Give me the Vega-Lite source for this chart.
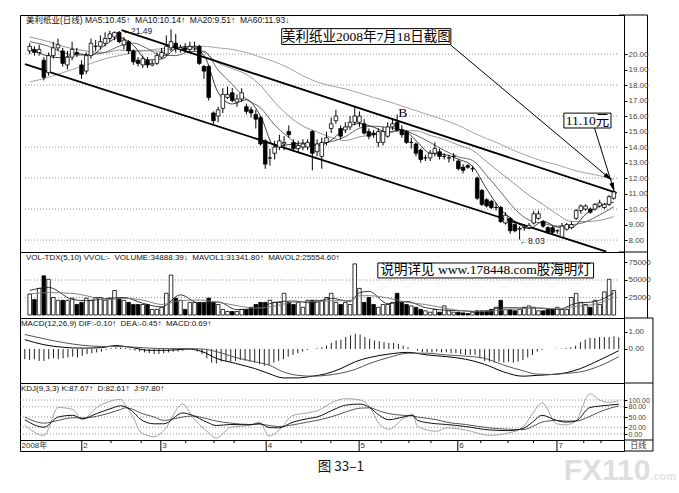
{
  "$schema": "https://vega.github.io/schema/vega-lite/v6.json",
  "background": "#ffffff",
  "padding": {"left": 19, "top": 14, "right": 0, "bottom": 12},
  "bounds": "flush",
  "spacing": 0,
  "config": {
    "view": {"stroke": "#000", "strokeWidth": 1},
    "text": {"font": "Liberation Sans, Noto Sans CJK SC", "fontSize": 8, "color": "#222"}
  },
  "datasets": {
    "k": [
      {"i":0,"o":20.2,"h":20.7,"l":20.0,"c":20.5,"v":30000,"m":-0.6},
      {"i":1,"o":20.3,"h":20.5,"l":19.9,"c":20.1,"v":22000,"m":-0.65},
      {"i":2,"o":20.1,"h":20.6,"l":19.9,"c":20.3,"v":38000,"m":-0.6},
      {"i":3,"o":19.6,"h":19.8,"l":18.3,"c":18.5,"v":56000,"m":-0.7},
      {"i":4,"o":18.8,"h":20.1,"l":18.6,"c":19.9,"v":51000,"m":-0.7},
      {"i":5,"o":19.9,"h":20.8,"l":19.7,"c":20.4,"v":25000,"m":-0.6},
      {"i":6,"o":20.4,"h":21.0,"l":20.2,"c":20.6,"v":21000,"m":-0.55},
      {"i":7,"o":20.2,"h":20.4,"l":19.2,"c":19.4,"v":21000,"m":-0.6},
      {"i":8,"o":19.3,"h":20.2,"l":19.0,"c":19.8,"v":21000,"m":-0.55},
      {"i":9,"o":19.8,"h":20.8,"l":19.6,"c":20.3,"v":24000,"m":-0.5},
      {"i":10,"o":20.1,"h":20.4,"l":19.8,"c":20.0,"v":15000,"m":-0.45},
      {"i":11,"o":19.3,"h":19.6,"l":18.4,"c":18.7,"v":18000,"m":-0.5},
      {"i":12,"o":18.9,"h":20.1,"l":18.7,"c":19.9,"v":24000,"m":-0.4},
      {"i":13,"o":19.9,"h":21.0,"l":19.7,"c":20.7,"v":21000,"m":-0.3},
      {"i":14,"o":20.5,"h":20.9,"l":20.2,"c":20.5,"v":25000,"m":-0.25},
      {"i":15,"o":20.5,"h":21.2,"l":20.3,"c":20.8,"v":25000,"m":-0.2},
      {"i":16,"o":20.7,"h":21.4,"l":20.5,"c":21.0,"v":21000,"m":-0.15},
      {"i":17,"o":21.0,"h":21.5,"l":20.8,"c":21.3,"v":24000,"m":-0.05},
      {"i":18,"o":21.1,"h":21.45,"l":20.9,"c":21.4,"v":35000,"m":0.05},
      {"i":19,"o":21.4,"h":21.49,"l":20.7,"c":20.8,"v":24000,"m":0.1},
      {"i":20,"o":20.6,"h":21.1,"l":20.3,"c":20.9,"v":21000,"m":0.08},
      {"i":21,"o":20.8,"h":20.9,"l":20.0,"c":20.2,"v":18000,"m":0.05},
      {"i":22,"o":20.2,"h":20.3,"l":19.3,"c":19.5,"v":15000,"m":-0.05},
      {"i":23,"o":19.6,"h":19.8,"l":19.2,"c":19.4,"v":15000,"m":-0.1},
      {"i":24,"o":19.3,"h":19.9,"l":19.1,"c":19.7,"v":15000,"m":-0.15},
      {"i":25,"o":19.6,"h":19.8,"l":19.1,"c":19.3,"v":15000,"m":-0.2},
      {"i":26,"o":19.3,"h":19.6,"l":19.2,"c":19.4,"v":8000,"m":-0.25},
      {"i":27,"o":19.4,"h":20.1,"l":19.3,"c":19.9,"v":8000,"m":-0.3},
      {"i":28,"o":19.8,"h":20.4,"l":19.7,"c":20.1,"v":11000,"m":-0.3},
      {"i":29,"o":20.0,"h":21.2,"l":19.9,"c":20.5,"v":31000,"m":-0.25},
      {"i":30,"o":20.4,"h":21.6,"l":20.2,"c":20.8,"v":57000,"m":-0.2},
      {"i":31,"o":20.7,"h":21.3,"l":20.1,"c":20.4,"v":24000,"m":-0.15},
      {"i":32,"o":20.3,"h":20.6,"l":20.1,"c":20.4,"v":21000,"m":-0.15},
      {"i":33,"o":20.4,"h":20.7,"l":20.1,"c":20.3,"v":8000,"m":-0.1},
      {"i":34,"o":20.3,"h":20.8,"l":20.1,"c":20.5,"v":18000,"m":-0.05},
      {"i":35,"o":20.4,"h":20.8,"l":20.2,"c":20.5,"v":18000,"m":-0.05},
      {"i":36,"o":20.5,"h":20.6,"l":19.3,"c":19.4,"v":18000,"m":-0.15},
      {"i":37,"o":19.2,"h":19.3,"l":18.4,"c":18.9,"v":18000,"m":-0.3},
      {"i":38,"o":19.2,"h":19.3,"l":17.0,"c":17.2,"v":24000,"m":-0.55},
      {"i":39,"o":16.2,"h":16.3,"l":15.5,"c":15.7,"v":18000,"m":-0.8},
      {"i":40,"o":16.0,"h":16.6,"l":15.6,"c":16.4,"v":15000,"m":-0.85},
      {"i":41,"o":16.5,"h":17.8,"l":16.2,"c":17.4,"v":8000,"m":-0.75},
      {"i":42,"o":17.2,"h":17.9,"l":17.1,"c":17.4,"v":5000,"m":-0.7},
      {"i":43,"o":17.5,"h":17.8,"l":16.9,"c":17.0,"v":5000,"m":-0.75},
      {"i":44,"o":16.9,"h":17.4,"l":16.6,"c":17.1,"v":5000,"m":-0.7},
      {"i":45,"o":17.1,"h":17.8,"l":16.9,"c":17.5,"v":8000,"m":-0.65},
      {"i":46,"o":16.6,"h":16.8,"l":16.1,"c":16.3,"v":8000,"m":-0.7},
      {"i":47,"o":16.4,"h":16.6,"l":15.9,"c":16.2,"v":11000,"m":-0.75},
      {"i":48,"o":16.1,"h":16.4,"l":15.2,"c":15.8,"v":15000,"m":-0.8},
      {"i":49,"o":15.9,"h":16.0,"l":14.1,"c":14.2,"v":18000,"m":-0.9},
      {"i":50,"o":14.4,"h":14.5,"l":12.6,"c":12.9,"v":18000,"m":-1.0},
      {"i":51,"o":13.3,"h":13.9,"l":12.8,"c":13.3,"v":21000,"m":-0.95},
      {"i":52,"o":13.6,"h":14.4,"l":13.2,"c":14.0,"v":18000,"m":-0.8},
      {"i":53,"o":14.0,"h":14.8,"l":13.8,"c":14.4,"v":18000,"m":-0.7},
      {"i":54,"o":14.2,"h":14.7,"l":13.8,"c":14.3,"v":31000,"m":-0.6},
      {"i":55,"o":15.0,"h":15.4,"l":14.6,"c":14.8,"v":18000,"m":-0.45},
      {"i":56,"o":14.3,"h":14.5,"l":13.7,"c":13.9,"v":15000,"m":-0.35},
      {"i":57,"o":13.9,"h":14.4,"l":13.6,"c":14.1,"v":18000,"m":-0.25},
      {"i":58,"o":14.0,"h":14.5,"l":13.8,"c":14.2,"v":11000,"m":-0.15},
      {"i":59,"o":14.0,"h":14.5,"l":13.8,"c":14.3,"v":21000,"m":-0.05},
      {"i":60,"o":15.0,"h":15.1,"l":12.5,"c":13.6,"v":21000,"m":0.0},
      {"i":61,"o":13.7,"h":14.5,"l":13.4,"c":14.2,"v":21000,"m":0.05},
      {"i":62,"o":13.4,"h":14.6,"l":12.6,"c":14.3,"v":21000,"m":0.1},
      {"i":63,"o":14.3,"h":15.0,"l":14.1,"c":14.6,"v":25000,"m":0.2},
      {"i":64,"o":15.2,"h":15.9,"l":14.9,"c":15.5,"v":31000,"m":0.35},
      {"i":65,"o":15.7,"h":16.4,"l":15.5,"c":16.0,"v":18000,"m":0.5},
      {"i":66,"o":15.2,"h":15.4,"l":14.5,"c":14.7,"v":15000,"m":0.55},
      {"i":67,"o":15.1,"h":15.6,"l":14.9,"c":15.3,"v":18000,"m":0.7},
      {"i":68,"o":15.3,"h":16.0,"l":15.1,"c":15.6,"v":15000,"m":0.8},
      {"i":69,"o":15.6,"h":16.6,"l":15.4,"c":16.0,"v":73000,"m":0.9},
      {"i":70,"o":15.6,"h":16.3,"l":15.3,"c":16.0,"v":38000,"m":0.85},
      {"i":71,"o":15.5,"h":15.8,"l":14.8,"c":14.9,"v":18000,"m":0.7},
      {"i":72,"o":15.0,"h":15.2,"l":14.5,"c":14.7,"v":25000,"m":0.6},
      {"i":73,"o":14.9,"h":15.1,"l":14.6,"c":14.8,"v":15000,"m":0.5},
      {"i":74,"o":14.3,"h":15.2,"l":14.0,"c":15.0,"v":11000,"m":0.45},
      {"i":75,"o":14.3,"h":15.3,"l":14.1,"c":15.0,"v":15000,"m":0.4},
      {"i":76,"o":14.7,"h":15.6,"l":14.6,"c":15.3,"v":15000,"m":0.35},
      {"i":77,"o":15.3,"h":15.8,"l":15.1,"c":15.5,"v":18000,"m":0.35},
      {"i":78,"o":15.6,"h":16.1,"l":15.0,"c":15.1,"v":31000,"m":0.3},
      {"i":79,"o":15.1,"h":15.4,"l":14.6,"c":14.8,"v":18000,"m":0.2},
      {"i":80,"o":15.0,"h":15.1,"l":14.2,"c":14.3,"v":15000,"m":0.1},
      {"i":81,"o":14.3,"h":14.6,"l":13.9,"c":14.3,"v":13000,"m":0.0},
      {"i":82,"o":14.2,"h":14.3,"l":13.4,"c":13.6,"v":11000,"m":-0.1},
      {"i":83,"o":13.8,"h":13.9,"l":13.0,"c":13.2,"v":8000,"m":-0.2},
      {"i":84,"o":13.3,"h":13.5,"l":13.1,"c":13.3,"v":6000,"m":-0.2},
      {"i":85,"o":13.3,"h":13.8,"l":13.1,"c":13.6,"v":4000,"m":-0.2},
      {"i":86,"o":13.6,"h":14.3,"l":13.4,"c":13.9,"v":8000,"m":-0.15},
      {"i":87,"o":13.7,"h":13.9,"l":13.2,"c":13.4,"v":4000,"m":-0.2},
      {"i":88,"o":13.4,"h":13.6,"l":13.2,"c":13.4,"v":13000,"m":-0.2},
      {"i":89,"o":13.3,"h":13.5,"l":13.0,"c":13.3,"v":6000,"m":-0.25},
      {"i":90,"o":13.4,"h":13.6,"l":13.1,"c":13.4,"v":4000,"m":-0.25},
      {"i":91,"o":13.1,"h":13.2,"l":12.5,"c":12.6,"v":4000,"m":-0.3},
      {"i":92,"o":12.7,"h":12.9,"l":12.3,"c":12.5,"v":3000,"m":-0.35},
      {"i":93,"o":12.8,"h":12.9,"l":12.6,"c":12.7,"v":2000,"m":-0.35},
      {"i":94,"o":12.6,"h":12.8,"l":12.4,"c":12.6,"v":4000,"m":-0.35},
      {"i":95,"o":12.0,"h":12.1,"l":10.6,"c":10.7,"v":6000,"m":-0.55},
      {"i":96,"o":11.2,"h":11.3,"l":10.2,"c":10.3,"v":6000,"m":-0.7},
      {"i":97,"o":10.6,"h":10.7,"l":10.1,"c":10.2,"v":6000,"m":-0.75},
      {"i":98,"o":10.5,"h":10.6,"l":10.0,"c":10.1,"v":8000,"m":-0.8},
      {"i":99,"o":10.1,"h":10.4,"l":9.9,"c":10.1,"v":11000,"m":-0.75},
      {"i":100,"o":10.1,"h":10.2,"l":9.1,"c":9.2,"v":21000,"m":-0.8},
      {"i":101,"o":9.1,"h":9.8,"l":9.0,"c":9.6,"v":8000,"m":-0.75},
      {"i":102,"o":9.4,"h":9.5,"l":8.4,"c":8.6,"v":8000,"m":-0.8},
      {"i":103,"o":9.0,"h":9.1,"l":8.5,"c":8.6,"v":6000,"m":-0.75},
      {"i":104,"o":8.7,"h":8.9,"l":8.03,"c":8.75,"v":8000,"m":-0.65},
      {"i":105,"o":8.8,"h":9.0,"l":8.6,"c":8.8,"v":11000,"m":-0.5},
      {"i":106,"o":8.8,"h":9.1,"l":8.7,"c":8.95,"v":13000,"m":-0.35},
      {"i":107,"o":9.1,"h":9.9,"l":9.0,"c":9.7,"v":11000,"m":-0.15},
      {"i":108,"o":9.4,"h":9.9,"l":9.3,"c":9.7,"v":6000,"m":-0.05},
      {"i":109,"o":9.2,"h":9.3,"l":8.8,"c":8.9,"v":6000,"m":0.0},
      {"i":110,"o":8.8,"h":8.9,"l":8.4,"c":8.5,"v":8000,"m":0.0},
      {"i":111,"o":8.8,"h":8.9,"l":8.4,"c":8.5,"v":8000,"m":0.02},
      {"i":112,"o":8.6,"h":8.7,"l":8.4,"c":8.6,"v":11000,"m":0.03},
      {"i":113,"o":8.2,"h":9.1,"l":8.1,"c":8.9,"v":8000,"m":0.05},
      {"i":114,"o":8.7,"h":9.1,"l":8.6,"c":9.0,"v":8000,"m":0.1},
      {"i":115,"o":8.8,"h":9.2,"l":8.7,"c":9.0,"v":25000,"m":0.2},
      {"i":116,"o":9.4,"h":10.0,"l":9.3,"c":9.9,"v":31000,"m":0.4},
      {"i":117,"o":9.9,"h":10.3,"l":9.7,"c":10.2,"v":18000,"m":0.55},
      {"i":118,"o":10.0,"h":10.3,"l":9.9,"c":10.2,"v":15000,"m":0.65},
      {"i":119,"o":10.0,"h":10.1,"l":9.7,"c":9.8,"v":11000,"m":0.65},
      {"i":120,"o":10.0,"h":10.4,"l":9.9,"c":10.3,"v":21000,"m":0.7},
      {"i":121,"o":10.2,"h":10.6,"l":10.1,"c":10.4,"v":15000,"m":0.7},
      {"i":122,"o":10.1,"h":10.4,"l":10.0,"c":10.3,"v":33000,"m":0.7},
      {"i":123,"o":10.3,"h":10.9,"l":10.2,"c":10.8,"v":51000,"m":0.75},
      {"i":124,"o":10.7,"h":11.2,"l":10.6,"c":11.1,"v":34888,"m":0.69}
    ],
    "ma": [
      {"i":0,"ma5":20.4,"ma10":20.8,"ma20":21.1,"ma60":18.2},
      {"i":4,"ma5":19.86,"ma10":20.5,"ma20":20.8,"ma60":18.5},
      {"i":7,"ma5":19.76,"ma10":20.1,"ma20":20.5,"ma60":18.8},
      {"i":10,"ma5":20.02,"ma10":19.93,"ma20":20.3,"ma60":19.1},
      {"i":13,"ma5":19.92,"ma10":19.97,"ma20":20.15,"ma60":19.4},
      {"i":16,"ma5":20.58,"ma10":20.11,"ma20":20.1,"ma60":19.7},
      {"i":19,"ma5":21.06,"ma10":20.51,"ma20":20.25,"ma60":19.9},
      {"i":22,"ma5":20.56,"ma10":20.71,"ma20":20.23,"ma60":20.1},
      {"i":25,"ma5":19.62,"ma10":20.35,"ma20":20.21,"ma60":20.25},
      {"i":28,"ma5":19.68,"ma10":19.92,"ma20":20.19,"ma60":20.35},
      {"i":31,"ma5":20.34,"ma10":19.9,"ma20":20.33,"ma60":20.45},
      {"i":34,"ma5":20.48,"ma10":20.16,"ma20":20.33,"ma60":20.5},
      {"i":37,"ma5":19.92,"ma10":20.18,"ma20":20.12,"ma60":20.5},
      {"i":40,"ma5":17.52,"ma10":18.97,"ma20":19.43,"ma60":20.4},
      {"i":43,"ma5":16.78,"ma10":18.04,"ma20":19.06,"ma60":20.3},
      {"i":46,"ma5":17.06,"ma10":17.09,"ma20":18.69,"ma60":20.1},
      {"i":49,"ma5":16.0,"ma10":16.53,"ma20":17.97,"ma60":19.8},
      {"i":52,"ma5":14.04,"ma10":15.43,"ma20":16.9,"ma60":19.5},
      {"i":55,"ma5":14.16,"ma10":14.62,"ma20":16.01,"ma60":19.1},
      {"i":58,"ma5":14.26,"ma10":14.01,"ma20":15.35,"ma60":18.6},
      {"i":61,"ma5":14.08,"ma10":14.18,"ma20":14.98,"ma60":18.2},
      {"i":64,"ma5":14.44,"ma10":14.35,"ma20":14.62,"ma60":17.95},
      {"i":67,"ma5":15.22,"ma10":14.67,"ma20":14.42,"ma60":17.75},
      {"i":70,"ma5":15.52,"ma10":15.22,"ma20":14.66,"ma60":17.49},
      {"i":73,"ma5":15.28,"ma10":15.35,"ma20":14.79,"ma60":17.2},
      {"i":76,"ma5":14.96,"ma10":15.26,"ma20":14.91,"ma60":16.95},
      {"i":79,"ma5":15.14,"ma10":15.11,"ma20":15.05,"ma60":16.65},
      {"i":82,"ma5":14.42,"ma10":14.77,"ma20":15.05,"ma60":16.35},
      {"i":85,"ma5":13.6,"ma10":14.3,"ma20":14.75,"ma60":16.05},
      {"i":88,"ma5":13.52,"ma10":13.78,"ma20":14.5,"ma60":15.75},
      {"i":91,"ma5":13.22,"ma10":13.37,"ma20":14.13,"ma60":15.4},
      {"i":94,"ma5":12.76,"ma10":13.14,"ma20":13.79,"ma60":14.95},
      {"i":97,"ma5":11.3,"ma10":12.17,"ma20":13.06,"ma60":14.55},
      {"i":100,"ma5":9.98,"ma10":11.1,"ma20":12.32,"ma60":14.18},
      {"i":103,"ma5":9.22,"ma10":10.0,"ma20":11.61,"ma60":13.75},
      {"i":106,"ma5":8.74,"ma10":9.29,"ma20":10.89,"ma60":13.4},
      {"i":109,"ma5":9.21,"ma10":9.08,"ma20":10.3,"ma60":13.08},
      {"i":112,"ma5":8.84,"ma10":8.9,"ma20":9.66,"ma60":12.85},
      {"i":115,"ma5":8.8,"ma10":8.98,"ma20":9.2,"ma60":12.55},
      {"i":118,"ma5":9.66,"ma10":9.17,"ma20":9.19,"ma60":12.33},
      {"i":121,"ma5":10.18,"ma10":9.63,"ma20":9.27,"ma60":12.15},
      {"i":124,"ma5":10.45,"ma10":10.14,"ma20":9.51,"ma60":11.93}
    ],
    "vma": [
      {"i":0,"mv1":35000,"mv2":30000},
      {"i":4,"mv1":39400,"mv2":32000},
      {"i":9,"mv1":22400,"mv2":30900},
      {"i":12,"mv1":20400,"mv2":27600},
      {"i":16,"mv1":23200,"mv2":21500},
      {"i":20,"mv1":25000,"mv2":23800},
      {"i":24,"mv1":16800,"mv2":21300},
      {"i":28,"mv1":11400,"mv2":15000},
      {"i":32,"mv1":28800,"mv2":20500},
      {"i":36,"mv1":16600,"mv2":21400},
      {"i":40,"mv1":18600,"mv2":18200},
      {"i":44,"mv1":7600,"mv2":13400},
      {"i":48,"mv1":9400,"mv2":9800},
      {"i":52,"mv1":18000,"mv2":12700},
      {"i":56,"mv1":20000,"mv2":18300},
      {"i":60,"mv1":17200,"mv2":19200},
      {"i":64,"mv1":23800,"mv2":20200},
      {"i":68,"mv1":19400,"mv2":20600},
      {"i":70,"mv1":31800,"mv2":27500},
      {"i":72,"mv1":33800,"mv2":27600},
      {"i":76,"mv1":16200,"mv2":24300},
      {"i":80,"mv1":19400,"mv2":18100},
      {"i":84,"mv1":10600,"mv2":15000},
      {"i":88,"mv1":7000,"mv2":10000},
      {"i":92,"mv1":6000,"mv2":6000},
      {"i":96,"mv1":4200,"mv2":5200},
      {"i":100,"mv1":10400,"mv2":7100},
      {"i":104,"mv1":10200,"mv2":8800},
      {"i":108,"mv1":9800,"mv2":10300},
      {"i":112,"mv1":7800,"mv2":8800},
      {"i":116,"mv1":16600,"mv2":12200},
      {"i":120,"mv1":19200,"mv2":15600},
      {"i":124,"mv1":31342,"mv2":25555}
    ],
    "macd": [
      {"i":0,"dif":0.55,"dea":0.85},
      {"i":4,"dif":0.25,"dea":0.6},
      {"i":8,"dif":0.1,"dea":0.38},
      {"i":12,"dif":0.05,"dea":0.22},
      {"i":16,"dif":0.08,"dea":0.15},
      {"i":19,"dif":0.2,"dea":0.15},
      {"i":22,"dif":0.1,"dea":0.12},
      {"i":26,"dif":-0.08,"dea":0.05},
      {"i":30,"dif":-0.08,"dea":0.02},
      {"i":34,"dif":0.0,"dea":0.02},
      {"i":37,"dif":-0.15,"dea":0.0},
      {"i":40,"dif":-0.55,"dea":-0.15},
      {"i":44,"dif":-0.85,"dea":-0.5},
      {"i":48,"dif":-1.15,"dea":-0.75},
      {"i":51,"dif":-1.45,"dea":-0.95},
      {"i":54,"dif":-1.7,"dea":-1.35},
      {"i":57,"dif":-1.7,"dea":-1.55},
      {"i":60,"dif":-1.6,"dea":-1.6},
      {"i":63,"dif":-1.45,"dea":-1.55},
      {"i":66,"dif":-1.15,"dea":-1.42},
      {"i":69,"dif":-0.75,"dea":-1.2},
      {"i":72,"dif":-0.5,"dea":-0.85},
      {"i":76,"dif":-0.3,"dea":-0.5},
      {"i":80,"dif":-0.2,"dea":-0.25},
      {"i":84,"dif":-0.35,"dea":-0.25},
      {"i":88,"dif":-0.45,"dea":-0.35},
      {"i":92,"dif":-0.6,"dea":-0.42},
      {"i":96,"dif":-0.9,"dea":-0.55},
      {"i":100,"dif":-1.35,"dea":-0.95},
      {"i":104,"dif":-1.6,"dea":-1.28},
      {"i":107,"dif":-1.55,"dea":-1.48},
      {"i":110,"dif":-1.5,"dea":-1.5},
      {"i":113,"dif":-1.4,"dea":-1.43},
      {"i":116,"dif":-1.15,"dea":-1.35},
      {"i":120,"dif":-0.65,"dea":-1.0},
      {"i":124,"dif":-0.1,"dea":-0.45}
    ],
    "kdj": [
      {"i":0,"k":42,"d":50,"j":26},
      {"i":4,"k":20,"d":32,"j":-4},
      {"i":7,"k":50,"d":40,"j":78},
      {"i":10,"k":55,"d":48,"j":72},
      {"i":12,"k":45,"d":47,"j":42},
      {"i":15,"k":60,"d":52,"j":78},
      {"i":18,"k":75,"d":63,"j":97},
      {"i":20,"k":83,"d":72,"j":102},
      {"i":21,"k":80,"d":77,"j":86},
      {"i":23,"k":60,"d":70,"j":38},
      {"i":24,"k":45,"d":63,"j":8},
      {"i":27,"k":30,"d":50,"j":-8},
      {"i":29,"k":30,"d":40,"j":10},
      {"i":33,"k":62,"d":50,"j":88},
      {"i":35,"k":55,"d":53,"j":50},
      {"i":38,"k":35,"d":45,"j":8},
      {"i":40,"k":25,"d":38,"j":-12},
      {"i":43,"k":28,"d":32,"j":20},
      {"i":47,"k":27,"d":28,"j":26},
      {"i":49,"k":31,"d":29,"j":35},
      {"i":51,"k":19,"d":25,"j":-6},
      {"i":53,"k":18,"d":22,"j":10},
      {"i":56,"k":35,"d":27,"j":55},
      {"i":59,"k":45,"d":35,"j":62},
      {"i":61,"k":50,"d":40,"j":68},
      {"i":65,"k":75,"d":55,"j":98},
      {"i":67,"k":85,"d":65,"j":104},
      {"i":70,"k":88,"d":76,"j":100},
      {"i":72,"k":78,"d":77,"j":80},
      {"i":74,"k":55,"d":68,"j":30},
      {"i":76,"k":42,"d":60,"j":14},
      {"i":79,"k":50,"d":55,"j":45},
      {"i":81,"k":55,"d":53,"j":58},
      {"i":82,"k":40,"d":50,"j":22},
      {"i":86,"k":30,"d":42,"j":8},
      {"i":88,"k":28,"d":35,"j":18},
      {"i":92,"k":22,"d":28,"j":12},
      {"i":97,"k":12,"d":18,"j":-4},
      {"i":101,"k":10,"d":14,"j":3},
      {"i":104,"k":16,"d":13,"j":20},
      {"i":106,"k":35,"d":22,"j":60},
      {"i":108,"k":55,"d":35,"j":92},
      {"i":111,"k":40,"d":40,"j":30},
      {"i":113,"k":35,"d":38,"j":27},
      {"i":115,"k":38,"d":38,"j":38},
      {"i":118,"k":78,"d":52,"j":118},
      {"i":120,"k":82,"d":65,"j":100},
      {"i":122,"k":85,"d":75,"j":93},
      {"i":124,"k":87.67,"d":82.61,"j":97.8}
    ]
  },
  "vconcat": [
    {
      "width": 604,
      "height": 237,
      "encoding": {
        "x": {"field": "i", "type": "quantitative", "scale": {"domain": [-1, 125.1], "nice": false, "zero": false}, "axis": null},
        "y": {"field": "p", "type": "quantitative", "scale": {"domain": [7.23, 22.52], "nice": false, "zero": false},
          "axis": {"orient": "right", "values": [8,9,10,11,12,13,14,15,16,17,18,19,20], "format": ".2f", "title": null, "grid": false, "tickSize": 3, "tickColor": "#000", "domainColor": "#000", "labelFont": "Liberation Sans", "labelFontSize": 8, "labelColor": "#444", "labelPadding": 1, "zindex": 2}}
      },
      "layer": [
        {
          "data": {"values": [{"i":-1,"i2":125.1,"p":8},{"i":-1,"i2":125.1,"p":10},{"i":-1,"i2":125.1,"p":12},{"i":-1,"i2":125.1,"p":14},{"i":-1,"i2":125.1,"p":16},{"i":-1,"i2":125.1,"p":18},{"i":-1,"i2":125.1,"p":20}]},
          "mark": {"type": "rule", "strokeDash": [1, 2], "color": "#777", "strokeWidth": 0.8},
          "encoding": {"x2": {"field": "i2"}}
        },
        {
          "data": {"values": [{"i":131.15,"i2":131.15,"p":22.52,"p2":7.23},{"i":125.1,"i2":131.15,"p":22.52,"p2":22.52}]},
          "mark": {"type": "rule", "color": "#000", "strokeWidth": 1},
          "encoding": {"x2": {"field": "i2"}, "y2": {"field": "p2"}}
        },
        {
          "data": {"name": "ma"},
          "mark": {"type": "line", "color": "#999", "strokeWidth": 0.9, "interpolate": "monotone"},
          "encoding": {"y": {"field": "ma60", "type": "quantitative"}}
        },
        {
          "data": {"name": "ma"},
          "mark": {"type": "line", "color": "#888", "strokeWidth": 0.9, "interpolate": "monotone"},
          "encoding": {"y": {"field": "ma20", "type": "quantitative"}}
        },
        {
          "data": {"name": "ma"},
          "mark": {"type": "line", "color": "#555", "strokeWidth": 0.9, "interpolate": "monotone"},
          "encoding": {"y": {"field": "ma10", "type": "quantitative"}}
        },
        {
          "data": {"name": "ma"},
          "mark": {"type": "line", "color": "#222", "strokeWidth": 0.9, "interpolate": "monotone"},
          "encoding": {"y": {"field": "ma5", "type": "quantitative"}}
        },
        {
          "data": {"values": [{"i":19.5,"p":21.55,"i2":124.6,"p2":11.05},{"i":-1,"p":19.35,"i2":122.4,"p2":7.25}]},
          "mark": {"type": "rule", "color": "#000", "strokeWidth": 1.8},
          "encoding": {"x2": {"field": "i2"}, "y2": {"field": "p2"}}
        },
        {
          "data": {"name": "k"},
          "mark": {"type": "rule", "color": "#000", "strokeWidth": 1},
          "encoding": {"y": {"field": "l", "type": "quantitative"}, "y2": {"field": "h"}}
        },
        {
          "data": {"name": "k"},
          "mark": {"type": "bar", "orient": "vertical", "size": 3.6, "stroke": "#000", "strokeWidth": 0.8},
          "encoding": {
            "y": {"field": "o", "type": "quantitative"}, "y2": {"field": "c"},
            "fill": {"condition": {"test": "datum.c < datum.o", "value": "#000"}, "value": "#fff"}
          }
        },
        {
          "data": {"values": [{"i":89.3,"p":20.6,"i2":122.8,"p2":12.06},{"i":119.9,"p":15.23,"i2":123.8,"p2":11.42}]},
          "mark": {"type": "rule", "color": "#000", "strokeWidth": 1},
          "encoding": {"x2": {"field": "i2"}, "y2": {"field": "p2"}}
        },
        {
          "data": {"values": [{"i":122.8,"p":12.06}]},
          "mark": {"type": "point", "shape": "M0,-1L0.45,0.8L-0.45,0.8Z", "filled": true, "color": "#000", "opacity": 1, "size": 110, "angle": 129}
        },
        {
          "data": {"values": [{"i":123.8,"p":11.42}]},
          "mark": {"type": "point", "shape": "M0,-1L0.45,0.8L-0.45,0.8Z", "filled": true, "color": "#000", "opacity": 1, "size": 110, "angle": 162}
        },
        {
          "data": {"values": [{"i":53.5,"p":21.64,"i2":89.4,"p2":20.62},{"i":113.4,"p":16.19,"i2":123.4,"p2":15.23}]},
          "mark": {"type": "rect", "fill": "#fff", "stroke": "#000", "strokeWidth": 1},
          "encoding": {"x2": {"field": "i2"}, "y2": {"field": "p2"}}
        },
        {
          "data": {"values": [{"i":71.45,"p":21.13,"t":"美利纸业2008年7月18日截图"},{"i":118.4,"p":15.71,"t":"11.10元"},{"i":79.2,"p":16.2,"t":"B"}]},
          "mark": {"type": "text", "font": "Liberation Serif, Noto Sans CJK SC", "fontSize": 13.5, "align": "center", "baseline": "middle", "color": "#000"},
          "encoding": {"text": {"field": "t"}}
        },
        {
          "data": {"values": [{"i":19.7,"p":21.48,"t":"←21.49"},{"i":104,"p":7.94,"t":"←8.03"}]},
          "mark": {"type": "text", "fontSize": 8.5, "align": "left", "baseline": "middle", "color": "#222"},
          "encoding": {"text": {"field": "t"}}
        },
        {
          "data": {"values": [{"i":-0.8,"p":22.52,"t":"美利纸业(日线) MA5:10.45↑\u00a0 MA10:10.14↑\u00a0 MA20:9.51↑\u00a0 MA60:11.93↓"}]},
          "mark": {"type": "text", "fontSize": 8.5, "align": "left", "baseline": "top", "dy": 1, "color": "#111"},
          "encoding": {"text": {"field": "t"}}
        }
      ]
    },
    {
      "width": 604,
      "height": 66,
      "encoding": {
        "x": {"field": "i", "type": "quantitative", "scale": {"domain": [-1, 125.1], "nice": false, "zero": false}, "axis": null},
        "y": {"field": "p", "type": "quantitative", "scale": {"domain": [-4300, 90000], "nice": false, "zero": false},
          "axis": {"orient": "right", "values": [25000, 50000, 75000], "format": "d", "title": null, "grid": false, "tickSize": 3, "tickColor": "#000", "domainColor": "#000", "labelFont": "Liberation Sans", "labelFontSize": 8, "labelColor": "#444", "labelPadding": 1, "zindex": 2}}
      },
      "layer": [
        {
          "data": {"values": [{"i":-1,"i2":125.1,"p":25000},{"i":-1,"i2":125.1,"p":50000}]},
          "mark": {"type": "rule", "strokeDash": [1, 2], "color": "#777", "strokeWidth": 0.8},
          "encoding": {"x2": {"field": "i2"}}
        },
        {
          "data": {"values": [{"i":131.15,"i2":131.15,"p":90000,"p2":-4300},{"i":125.1,"i2":131.15,"p":90000,"p2":90000}]},
          "mark": {"type": "rule", "color": "#000", "strokeWidth": 1},
          "encoding": {"x2": {"field": "i2"}, "y2": {"field": "p2"}}
        },
        {
          "data": {"name": "k"},
          "mark": {"type": "bar", "orient": "vertical", "size": 3.6, "stroke": "#000", "strokeWidth": 0.8},
          "encoding": {
            "y": {"field": "v", "type": "quantitative"}, "y2": {"datum": 0},
            "fill": {"condition": {"test": "datum.c < datum.o", "value": "#000"}, "value": "#fff"}
          }
        },
        {
          "data": {"name": "vma"},
          "mark": {"type": "line", "color": "#222", "strokeWidth": 0.9, "interpolate": "monotone"},
          "encoding": {"y": {"field": "mv1", "type": "quantitative"}}
        },
        {
          "data": {"name": "vma"},
          "mark": {"type": "line", "color": "#777", "strokeWidth": 0.9, "interpolate": "monotone"},
          "encoding": {"y": {"field": "mv2", "type": "quantitative"}}
        },
        {
          "data": {"values": [{"i":73.9,"p":74300,"i2":119.7,"p2":52900}]},
          "mark": {"type": "rect", "fill": "#fff", "stroke": "#000", "strokeWidth": 1},
          "encoding": {"x2": {"field": "i2"}, "y2": {"field": "p2"}}
        },
        {
          "data": {"values": [{"i":96.8,"p":63600,"t":"说明详见 www.178448.com股海明灯"}]},
          "mark": {"type": "text", "font": "Liberation Serif, Noto Sans CJK SC", "fontSize": 13.5, "align": "center", "baseline": "middle", "color": "#000"},
          "encoding": {"text": {"field": "t"}}
        },
        {
          "data": {"values": [{"i":-0.8,"p":90000,"t":"VOL-TDX(5,10) VVOL:-\u00a0 VOLUME:34888.39↓\u00a0 MAVOL1:31341.80↑\u00a0 MAVOL2:25554.60↑"}]},
          "mark": {"type": "text", "fontSize": 8, "align": "left", "baseline": "top", "dy": 1.5, "color": "#111"},
          "encoding": {"text": {"field": "t"}}
        }
      ]
    },
    {
      "width": 604,
      "height": 65,
      "encoding": {
        "x": {"field": "i", "type": "quantitative", "scale": {"domain": [-1, 125.1], "nice": false, "zero": false}, "axis": null},
        "y": {"field": "p", "type": "quantitative", "scale": {"domain": [-2.0, 1.82], "nice": false, "zero": false},
          "axis": {"orient": "right", "values": [0, 1], "format": ".2f", "title": null, "grid": false, "tickSize": 3, "tickColor": "#000", "domainColor": "#000", "labelFont": "Liberation Sans", "labelFontSize": 8, "labelColor": "#444", "labelPadding": 1, "zindex": 2}}
      },
      "layer": [
        {
          "data": {"name": "k"},
          "mark": {"type": "rule", "color": "#222", "strokeWidth": 1},
          "encoding": {"y": {"field": "m", "type": "quantitative"}, "y2": {"datum": 0}}
        },
        {
          "data": {"values": [{"i":131.15,"i2":131.15,"p":1.82,"p2":-2.0},{"i":125.1,"i2":131.15,"p":1.82,"p2":1.82}]},
          "mark": {"type": "rule", "color": "#000", "strokeWidth": 1},
          "encoding": {"x2": {"field": "i2"}, "y2": {"field": "p2"}}
        },
        {
          "data": {"name": "macd"},
          "mark": {"type": "line", "color": "#000", "strokeWidth": 1, "interpolate": "monotone"},
          "encoding": {"y": {"field": "dif", "type": "quantitative"}}
        },
        {
          "data": {"name": "macd"},
          "mark": {"type": "line", "color": "#555", "strokeWidth": 1, "interpolate": "monotone"},
          "encoding": {"y": {"field": "dea", "type": "quantitative"}}
        },
        {
          "data": {"values": [{"i":-0.8,"p":1.82,"t":"MACD(12,26,9) DIF:-0.10↑\u00a0 DEA:-0.45↑\u00a0 MACD:0.69↑"}]},
          "mark": {"type": "text", "fontSize": 8, "align": "left", "baseline": "top", "dy": 1.5, "color": "#111"},
          "encoding": {"text": {"field": "t"}}
        }
      ]
    },
    {
      "width": 604,
      "height": 57,
      "encoding": {
        "x": {"field": "i", "type": "quantitative", "scale": {"domain": [-1, 125.1], "nice": false, "zero": false}, "axis": null},
        "y": {"field": "p", "type": "quantitative", "scale": {"domain": [-17.6, 150], "nice": false, "zero": false},
          "axis": {"orient": "right", "values": [0, 20, 50, 80, 100], "format": ".2f", "title": null, "grid": false, "tickSize": 3, "tickColor": "#000", "domainColor": "#000", "labelFont": "Liberation Sans", "labelFontSize": 7, "labelColor": "#444", "labelPadding": 1, "labelOverlap": false, "zindex": 2}}
      },
      "layer": [
        {
          "data": {"values": [{"i":-1,"i2":125.1,"p":0},{"i":-1,"i2":125.1,"p":20},{"i":-1,"i2":125.1,"p":50},{"i":-1,"i2":125.1,"p":80},{"i":-1,"i2":125.1,"p":100}]},
          "mark": {"type": "rule", "strokeDash": [1, 2], "color": "#777", "strokeWidth": 0.8},
          "encoding": {"x2": {"field": "i2"}}
        },
        {
          "data": {"values": [{"i":131.15,"i2":131.15,"p":150,"p2":-17.6},{"i":125.1,"i2":131.15,"p":150,"p2":150}]},
          "mark": {"type": "rule", "color": "#000", "strokeWidth": 1},
          "encoding": {"x2": {"field": "i2"}, "y2": {"field": "p2"}}
        },
        {
          "data": {"name": "kdj"},
          "mark": {"type": "line", "color": "#999", "strokeWidth": 0.9, "interpolate": "monotone"},
          "encoding": {"y": {"field": "j", "type": "quantitative"}}
        },
        {
          "data": {"name": "kdj"},
          "mark": {"type": "line", "color": "#555", "strokeWidth": 1, "interpolate": "monotone"},
          "encoding": {"y": {"field": "d", "type": "quantitative"}}
        },
        {
          "data": {"name": "kdj"},
          "mark": {"type": "line", "color": "#111", "strokeWidth": 1, "interpolate": "monotone"},
          "encoding": {"y": {"field": "k", "type": "quantitative"}}
        },
        {
          "data": {"values": [{"i":-0.8,"p":150,"t":"KDJ(9,3,3) K:87.67↑\u00a0 D:82.61↑\u00a0 J:97.80↑"}]},
          "mark": {"type": "text", "fontSize": 8, "align": "left", "baseline": "top", "dy": 1.5, "color": "#111"},
          "encoding": {"text": {"field": "t"}}
        }
      ]
    },
    {
      "width": 604,
      "height": 11,
      "encoding": {
        "x": {"field": "i", "type": "quantitative", "scale": {"domain": [-1, 125.1], "nice": false, "zero": false}, "axis": null},
        "y": {"field": "p", "type": "quantitative", "scale": {"domain": [0, 1], "nice": false, "zero": false}, "axis": null}
      },
      "layer": [
        {
          "data": {"values": [{"i":11.9,"i2":11.9,"p":0,"p2":1},{"i":28.4,"i2":28.4,"p":0,"p2":1},{"i":50.4,"i2":50.4,"p":0,"p2":1},{"i":69.8,"i2":69.8,"p":0,"p2":1},{"i":90.4,"i2":90.4,"p":0,"p2":1},{"i":111.1,"i2":111.1,"p":0,"p2":1},{"i":131.15,"i2":131.15,"p":0,"p2":1},{"i":125.1,"i2":131.15,"p":1,"p2":1},{"i":125.1,"i2":131.15,"p":0,"p2":0}]},
          "mark": {"type": "rule", "color": "#000", "strokeWidth": 1},
          "encoding": {"x2": {"field": "i2"}, "y2": {"field": "p2"}}
        },
        {
          "data": {"values": [{"i":18,"p":1,"p2":0.72},{"i":24.3,"p":1,"p2":0.72},{"i":33.6,"p":1,"p2":0.72},{"i":39.5,"p":1,"p2":0.72},{"i":43.7,"p":1,"p2":0.72},{"i":57.7,"p":1,"p2":0.72},{"i":63.9,"p":1,"p2":0.72},{"i":74.4,"p":1,"p2":0.72},{"i":80.2,"p":1,"p2":0.72},{"i":84.8,"p":1,"p2":0.72},{"i":95.2,"p":1,"p2":0.72},{"i":100.9,"p":1,"p2":0.72},{"i":106.2,"p":1,"p2":0.72},{"i":116.7,"p":1,"p2":0.72},{"i":120.3,"p":1,"p2":0.72}]},
          "mark": {"type": "rule", "color": "#000", "strokeWidth": 1},
          "encoding": {"y2": {"field": "p2"}}
        },
        {
          "data": {"values": [{"i":-1,"p":0.5,"t":"2008年"},{"i":11.9,"p":0.5,"t":"2"},{"i":28.4,"p":0.5,"t":"3"},{"i":50.4,"p":0.5,"t":"4"},{"i":69.8,"p":0.5,"t":"5"},{"i":90.4,"p":0.5,"t":"6"},{"i":111.1,"p":0.5,"t":"7"}]},
          "mark": {"type": "text", "fontSize": 8, "align": "left", "baseline": "middle", "dx": 1.5, "dy": 0.5, "color": "#333"},
          "encoding": {"text": {"field": "t"}}
        },
        {
          "data": {"values": [{"i":128.1,"p":0.5,"t":"日线"}]},
          "mark": {"type": "text", "fontSize": 8, "align": "center", "baseline": "middle", "dy": 0.5, "color": "#333"},
          "encoding": {"text": {"field": "t"}}
        },
        {
          "data": {"values": [{"i":66,"p":0,"t":"图 33–1"}]},
          "mark": {"type": "text", "font": "Noto Sans CJK SC", "fontSize": 13.5, "align": "center", "baseline": "middle", "dy": 16, "color": "#111"},
          "encoding": {"text": {"field": "t"}}
        },
        {
          "data": {"values": [{"i":112.5,"p":0,"t":"FX110"}]},
          "mark": {"type": "text", "font": "Liberation Sans", "fontWeight": "bold", "fontSize": 30, "align": "left", "baseline": "alphabetic", "dy": 29, "color": "#dedede"},
          "encoding": {"text": {"field": "t"}}
        },
        {
          "data": {"values": [{"i":130.6,"p":0,"t":".com"}]},
          "mark": {"type": "text", "font": "Liberation Sans", "fontWeight": "bold", "fontSize": 11, "align": "left", "baseline": "alphabetic", "dy": 29, "color": "#e2e2e2"},
          "encoding": {"text": {"field": "t"}}
        }
      ]
    }
  ]
}
